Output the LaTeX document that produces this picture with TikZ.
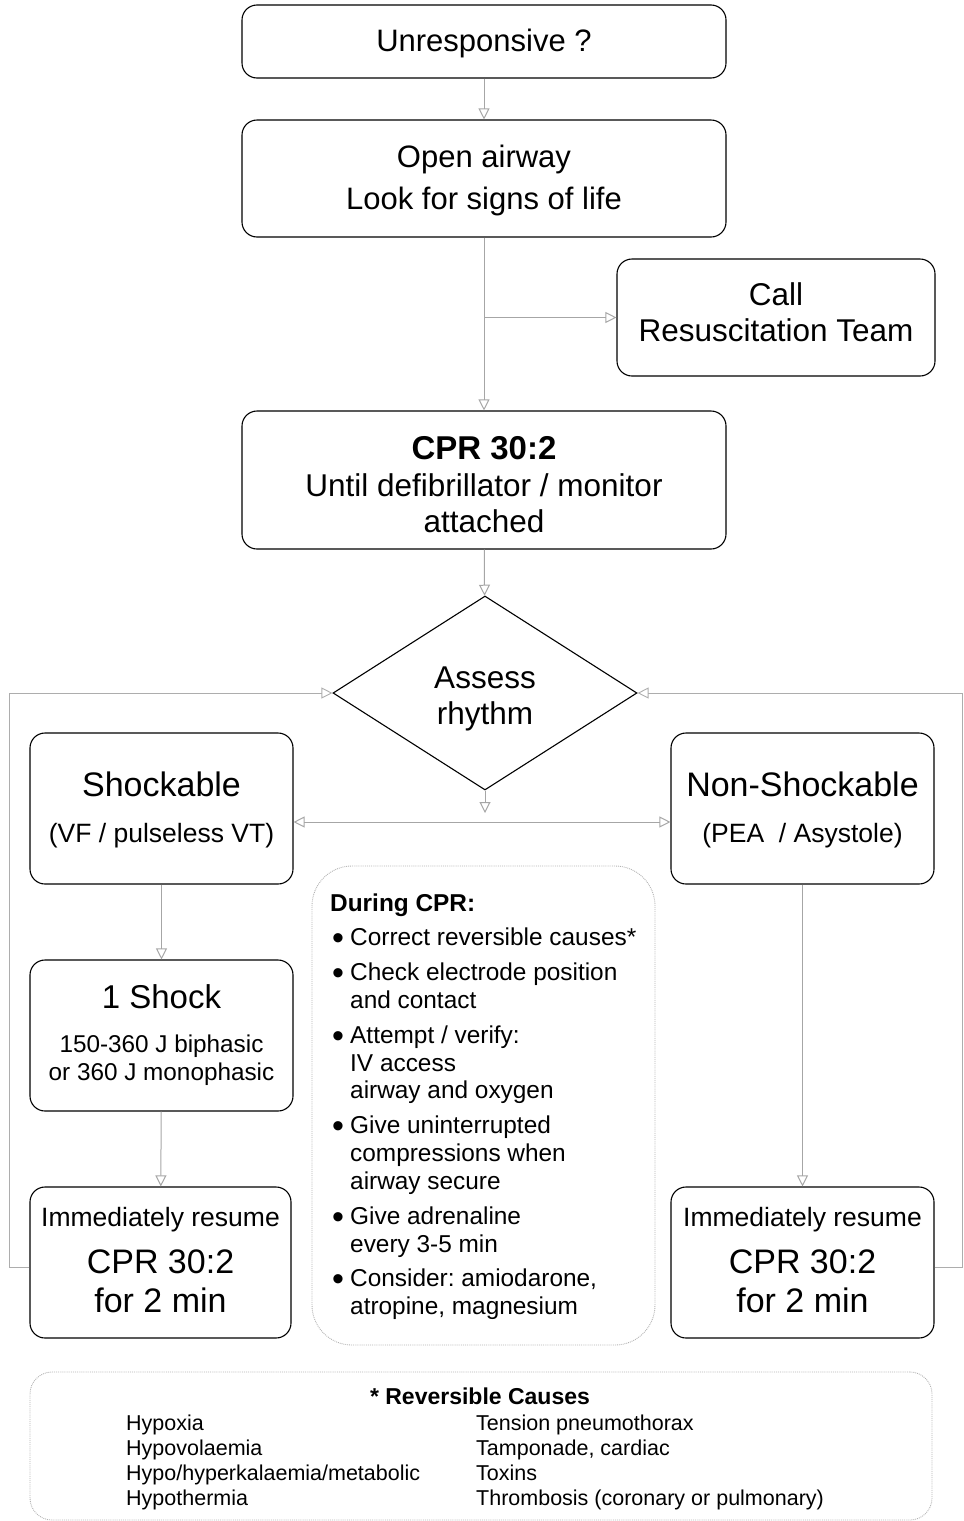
\documentclass[tikz,border=0pt]{standalone}
\usepackage{fontspec}
\setmainfont{Liberation Sans}
\usetikzlibrary{shapes.geometric,arrows.meta}
\frenchspacing
\newcommand{\fsz}[1]{\fontsize{#1}{#1}\selectfont}
\newcommand{\bul}{\hspace*{2pt}\makebox[18pt][l]{\raisebox{-4pt}{\fontsize{34}{34}\selectfont •}}}
\begin{document}
\begin{tikzpicture}[x=1pt,y=-1pt,
  box/.style={draw, rounded corners=15pt, line width=1.1pt, inner sep=0pt},
  lbl/.style={anchor=base, inner sep=0pt},
  lbll/.style={anchor=base west, inner sep=0pt},
  conn/.style={draw=black!35, line width=1pt, -{Triangle[open,length=11pt,width=11pt]}},
  dconn/.style={draw=black!35, line width=1pt, {Triangle[open,length=11pt,width=11pt]}-{Triangle[open,length=11pt,width=11pt]}},
  loopln/.style={draw=black!32, line width=0.9pt},
  softbox/.style={draw=black!30, line width=0.9pt, densely dotted, inner sep=0pt}]
\useasboundingbox (0,0) rectangle (964,1521);

% boxes
\node[box, minimum width=484pt, minimum height=73pt] (unr) at (484,41.5) {};
\node[box, minimum width=484pt, minimum height=117pt] (open) at (484,178.5) {};
\node[box, minimum width=318pt, minimum height=117pt] (call) at (776,317.5) {};
\node[box, minimum width=484pt, minimum height=138pt] (cpr) at (484,480) {};
\node[draw, diamond, line width=1.1pt, inner sep=0pt, aspect=1.567,
      minimum width=304pt, minimum height=194pt] (diam) at (485,693) {};
\node[box, minimum width=263pt, minimum height=151pt] (shock) at (161.5,808.5) {};
\node[box, minimum width=263pt, minimum height=151pt] (non) at (802.5,808.5) {};
\node[box, minimum width=263pt, minimum height=151pt] (one) at (161.5,1035.5) {};
\node[box, minimum width=261pt, minimum height=151pt] (lres) at (160.5,1262.5) {};
\node[box, minimum width=263pt, minimum height=151pt] (rres) at (802.5,1262.5) {};
\node[softbox, rounded corners=40pt, minimum width=343pt, minimum height=479pt] (during) at (483.5,1105.5) {};
\node[softbox, rounded corners=22pt, minimum width=902pt, minimum height=148pt] (rev) at (481,1446) {};

% texts
\node[lbl, font=\fsz{31}] (t1) at (484,51) {Unresponsive ?};
\node[lbl, font=\fsz{31}] (t2) at (484,167) {Open airway};
\node[lbl, font=\fsz{31}] (t3) at (484,209) {Look for signs of life};
\node[lbl, font=\fsz{31.5}] (t4) at (776,305) {Call};
\node[lbl, font=\fsz{31.5}] (t5) at (776,341) {Resuscitation Team};
\node[lbl, font=\bfseries\fsz{33}] (t6) at (484,459) {CPR 30:2};
\node[lbl, font=\fsz{31.5}] (t7) at (484,496) {Until defibrillator / monitor};
\node[lbl, font=\fsz{31.5}] (t8) at (484,532) {attached};
\node[lbl, font=\fsz{31.5}] (t9) at (485,688) {Assess};
\node[lbl, font=\fsz{31.5}] (t10) at (485,724) {rhythm};
\node[lbl, font=\fsz{34}] (t11) at (161.5,796) {Shockable};
\node[lbl, font=\fsz{26.5}] (t12) at (161.5,842) {(VF / pulseless VT)};
\node[lbl, font=\fsz{34}] (t13) at (802.5,796) {Non-Shockable};
\node[lbl, font=\fsz{26.5}] (t14) at (802.5,842) {(PEA \ / Asystole)};
\node[lbl, font=\fsz{33}] (t15) at (161.5,1008) {1 Shock};
\node[lbl, font=\fsz{24.3}] (t16) at (161.5,1052) {150-360 J biphasic};
\node[lbl, font=\fsz{24.3}] (t17) at (161.5,1080) {or 360 J monophasic};
\node[lbl, font=\fsz{26.5}] (t18) at (160.5,1226) {Immediately resume};
\node[lbl, font=\fsz{34}] (t19) at (160.5,1273) {CPR 30:2};
\node[lbl, font=\fsz{34}] (t20) at (160.5,1312) {for 2 min};
\node[lbl, font=\fsz{26.5}] (t21) at (802.5,1226) {Immediately resume};
\node[lbl, font=\fsz{34}] (t22) at (802.5,1273) {CPR 30:2};
\node[lbl, font=\fsz{34}] (t23) at (802.5,1312) {for 2 min};

% during CPR
\node[lbll, font=\bfseries\fsz{24.4}] (d0) at (330,911) {During CPR:};
\node[lbll, font=\fsz{24.4}] (d1) at (330,945.5) {\bul Correct reversible causes*};
\node[lbll, font=\fsz{24.4}] (d2) at (330,980.5) {\bul Check electrode position};
\node[lbll, font=\fsz{24.4}] (d3) at (350,1008.5) {and contact};
\node[lbll, font=\fsz{24.4}] (d4) at (330,1043.5) {\bul Attempt / verify:};
\node[lbll, font=\fsz{24.4}] (d5) at (350,1071.5) {IV access};
\node[lbll, font=\fsz{24.4}] (d6) at (350,1098.5) {airway and oxygen};
\node[lbll, font=\fsz{24.4}] (d7) at (330,1133.5) {\bul Give uninterrupted};
\node[lbll, font=\fsz{24.4}] (d8) at (350,1161.5) {compressions when};
\node[lbll, font=\fsz{24.4}] (d9) at (350,1189.5) {airway secure};
\node[lbll, font=\fsz{24.4}] (d10) at (330,1224.5) {\bul Give adrenaline};
\node[lbll, font=\fsz{24.4}] (d11) at (350,1252.5) {every 3-5 min};
\node[lbll, font=\fsz{24.4}] (d12) at (330,1286.5) {\bul Consider: amiodarone,};
\node[lbll, font=\fsz{24.4}] (d13) at (350,1314.5) {atropine, magnesium};

% reversible causes
\node[lbl, font=\bfseries\fsz{23}] (r0) at (480,1404) {* Reversible Causes};
\node[lbll, font=\fsz{21.5}] (r1) at (126,1430) {Hypoxia};
\node[lbll, font=\fsz{21.5}] (r2) at (126,1455) {Hypovolaemia};
\node[lbll, font=\fsz{21.5}] (r3) at (126,1480) {Hypo/hyperkalaemia/metabolic};
\node[lbll, font=\fsz{21.5}] (r4) at (126,1505) {Hypothermia};
\node[lbll, font=\fsz{21.5}] (r5) at (476,1430) {Tension pneumothorax};
\node[lbll, font=\fsz{21.5}] (r6) at (476,1455) {Tamponade, cardiac};
\node[lbll, font=\fsz{21.5}] (r7) at (476,1480) {Toxins};
\node[lbll, font=\fsz{21.5}] (r8) at (476,1505) {Thrombosis (coronary or pulmonary)};

% connectors
\coordinate (dstop) at (485,813);
\draw[conn] (unr) -- (open);
\draw[conn] (open) -- (cpr);
\draw[conn] (open.south |- call.west) -- (call.west);
\draw[conn] (cpr) -- (diam);
\draw[conn] (diam.south) -- (dstop);
\draw[dconn] ([yshift=-13.5pt]shock.east) -- ([yshift=-13.5pt]non.west);
\draw[conn] (shock) -- (one);
\draw[conn] (one) -- (lres);
\draw[conn] (non) -- (rres);
\draw[loopln, -{Triangle[open,length=11pt,width=11pt]}] ([yshift=-4.5pt]lres.west) -- ++(-20,0) |- (diam.west);
\draw[loopln, -{Triangle[open,length=11pt,width=11pt]}] ([yshift=-4.5pt]rres.east) -- (962,1267) |- (diam.east);
\end{tikzpicture}
\end{document}
